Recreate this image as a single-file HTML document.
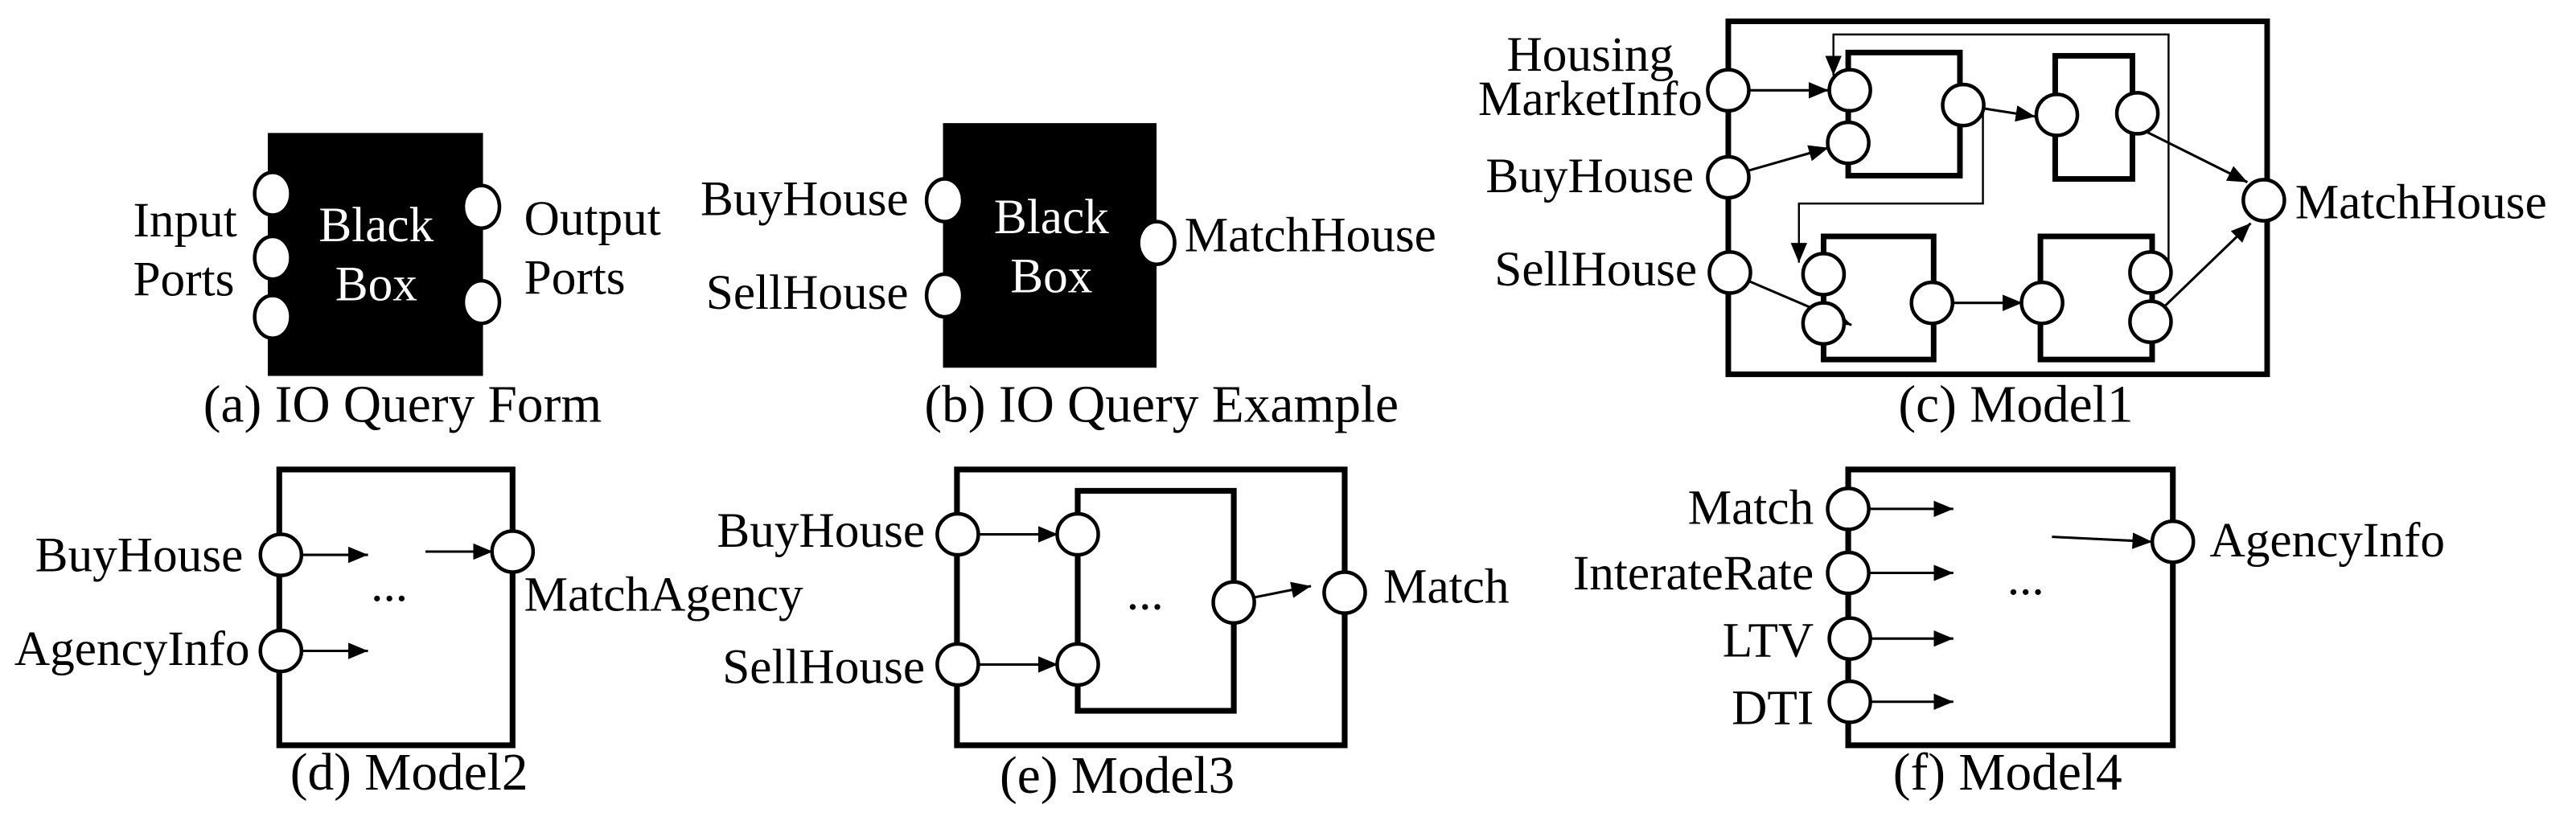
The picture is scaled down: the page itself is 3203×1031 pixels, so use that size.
<!DOCTYPE html>
<html><head><meta charset="utf-8"><style>
html,body{margin:0;padding:0;background:#fff;}
svg{display:block;}
text{font-family:"Liberation Serif",serif;fill:#000;}
</style></head><body>
<svg width="3203" height="1031" viewBox="0 0 1568 505" preserveAspectRatio="none" xmlns="http://www.w3.org/2000/svg">
<defs>
<marker id="ah" markerUnits="userSpaceOnUse" markerWidth="13" markerHeight="11" refX="12" refY="5" orient="auto"><path d="M0,0 L12,5 L0,10 z" fill="#000"/></marker>
</defs>
<g font-size="30">
<!-- (a) -->
<rect x="163" y="81" width="131" height="148" fill="#000"/>
<g fill="#fff" stroke="#000" stroke-width="2.2">
<ellipse cx="166" cy="118" rx="11" ry="13"/><ellipse cx="166" cy="157" rx="11" ry="13"/><ellipse cx="166" cy="193" rx="11" ry="13"/>
<ellipse cx="293" cy="126" rx="11" ry="13"/><ellipse cx="293" cy="184" rx="11" ry="13"/>
</g>
<text x="229" y="147" text-anchor="middle" style="fill:#fff">Black</text>
<text x="229" y="183" text-anchor="middle" style="fill:#fff">Box</text>
<text x="81" y="144">Input</text><text x="81" y="180">Ports</text>
<text x="319" y="143">Output</text><text x="319" y="179">Ports</text>
<text x="245" y="257" text-anchor="middle" font-size="32">(a) IO Query Form</text>

<!-- (b) -->
<rect x="574" y="75" width="130" height="149" fill="#000"/>
<g fill="#fff" stroke="#000" stroke-width="2.2">
<ellipse cx="575" cy="122" rx="11" ry="13"/><ellipse cx="575" cy="180" rx="11" ry="13"/><ellipse cx="704" cy="148" rx="11" ry="13"/>
</g>
<text x="640" y="142" text-anchor="middle" style="fill:#fff">Black</text>
<text x="640" y="178" text-anchor="middle" style="fill:#fff">Box</text>
<text x="553" y="131" text-anchor="end">BuyHouse</text>
<text x="553" y="188" text-anchor="end">SellHouse</text>
<text x="721" y="153">MatchHouse</text>
<text x="707" y="257" text-anchor="middle" font-size="32">(b) IO Query Example</text>

<!-- (c) -->
<g fill="none" stroke="#000" stroke-width="3.4">
<rect x="1052" y="13" width="328" height="215"/>
<rect x="1125" y="32" width="68" height="75"/>
<rect x="1251" y="34" width="47" height="75"/>
<rect x="1110" y="144" width="67" height="75"/>
<rect x="1242" y="144" width="68" height="75"/>
</g>
<g fill="none" stroke="#000" stroke-width="1.2">
<polyline points="1207,64 1207,124 1095,124 1095,160" marker-end="url(#ah)"/>
<polyline points="1320,166 1320,21 1116,21 1116,46" marker-end="url(#ah)"/>
</g>
<g stroke="#000" stroke-width="1.5" fill="none">
<line x1="1064" y1="55" x2="1113" y2="55" marker-end="url(#ah)"/>
<line x1="1064" y1="104" x2="1113" y2="90" marker-end="url(#ah)"/>
<line x1="1207" y1="66" x2="1239" y2="71" marker-end="url(#ah)"/>
<line x1="1306" y1="80" x2="1368" y2="111" marker-end="url(#ah)"/>
<line x1="1313" y1="191" x2="1370" y2="136" marker-end="url(#ah)"/>
<line x1="1064" y1="171" x2="1127" y2="198" marker-end="url(#ah)"/>
<line x1="1188" y1="184.5" x2="1231" y2="184.5" marker-end="url(#ah)"/>
</g>
<g fill="#fff" stroke="#000" stroke-width="2.2">
<circle cx="1052" cy="55" r="12.5"/><circle cx="1052" cy="108" r="12.5"/><circle cx="1053" cy="166" r="12.5"/>
<circle cx="1126" cy="55" r="12.5"/><circle cx="1125" cy="87" r="12.5"/><circle cx="1195" cy="64" r="12.5"/>
<circle cx="1252" cy="70" r="12.5"/><circle cx="1301" cy="69" r="12.5"/>
<circle cx="1110" cy="167" r="12.5"/><circle cx="1110" cy="197" r="12.5"/><circle cx="1176" cy="184.5" r="12.5"/>
<circle cx="1243" cy="184.5" r="12.5"/><circle cx="1309" cy="166" r="12.5"/><circle cx="1309" cy="196" r="12.5"/>
<circle cx="1378" cy="122" r="12.5"/>
</g>
<text x="968" y="43" text-anchor="middle">Housing</text>
<text x="968" y="70" text-anchor="middle">MarketInfo</text>
<text x="1031" y="117" text-anchor="end">BuyHouse</text>
<text x="1033" y="174" text-anchor="end">SellHouse</text>
<text x="1397" y="133">MatchHouse</text>
<text x="1227" y="257" text-anchor="middle" font-size="32">(c) Model1</text>

<!-- (d) -->
<rect x="170" y="286" width="142" height="168" fill="none" stroke="#000" stroke-width="3.5"/>
<g stroke="#000" stroke-width="1.5">
<line x1="183" y1="338" x2="224" y2="338" marker-end="url(#ah)"/>
<line x1="259" y1="336" x2="300" y2="336" marker-end="url(#ah)"/>
<line x1="183" y1="396.5" x2="224" y2="396.5" marker-end="url(#ah)"/>
</g>
<g fill="#fff" stroke="#000" stroke-width="2.2">
<circle cx="171" cy="338" r="12.5"/><circle cx="171" cy="396.5" r="12.5"/><circle cx="312" cy="336" r="12.5"/>
</g>
<text x="237" y="366" text-anchor="middle">...</text>
<text x="148" y="348" text-anchor="end">BuyHouse</text>
<text x="152" y="405" text-anchor="end">AgencyInfo</text>
<text x="319" y="372">MatchAgency</text>
<text x="249" y="481" text-anchor="middle" font-size="32">(d) Model2</text>

<!-- (e) -->
<g fill="none" stroke="#000" stroke-width="3.5">
<rect x="582.5" y="286" width="236" height="168"/>
<rect x="656" y="299" width="95" height="134"/>
</g>
<g stroke="#000" stroke-width="1.5">
<line x1="595" y1="325.5" x2="644" y2="325.5" marker-end="url(#ah)"/>
<line x1="595" y1="404.8" x2="644" y2="404.8" marker-end="url(#ah)"/>
<line x1="763" y1="364" x2="798" y2="357" marker-end="url(#ah)"/>
</g>
<g fill="#fff" stroke="#000" stroke-width="2.2">
<circle cx="583" cy="325.5" r="12.5"/><circle cx="583" cy="404.8" r="12.5"/>
<circle cx="656" cy="325.5" r="12.5"/><circle cx="656" cy="404.8" r="12.5"/>
<circle cx="751" cy="367" r="12.5"/><circle cx="818.5" cy="361" r="12.5"/>
</g>
<text x="697" y="371" text-anchor="middle">...</text>
<text x="563" y="333" text-anchor="end">BuyHouse</text>
<text x="563" y="416" text-anchor="end">SellHouse</text>
<text x="842" y="367">Match</text>
<text x="680" y="483" text-anchor="middle" font-size="32">(e) Model3</text>

<!-- (f) -->
<rect x="1125" y="286" width="197.6" height="168" fill="none" stroke="#000" stroke-width="3.5"/>
<g stroke="#000" stroke-width="1.5">
<line x1="1137" y1="310" x2="1189" y2="310" marker-end="url(#ah)"/>
<line x1="1137" y1="349" x2="1189" y2="349" marker-end="url(#ah)"/>
<line x1="1137" y1="389" x2="1189" y2="389" marker-end="url(#ah)"/>
<line x1="1137" y1="427.5" x2="1189" y2="427.5" marker-end="url(#ah)"/>
<line x1="1249" y1="327" x2="1310" y2="330" marker-end="url(#ah)"/>
</g>
<g fill="#fff" stroke="#000" stroke-width="2.2">
<circle cx="1125" cy="310" r="12.5"/><circle cx="1125" cy="349" r="12.5"/><circle cx="1126" cy="389" r="12.5"/><circle cx="1126" cy="427.5" r="12.5"/>
<circle cx="1322.6" cy="330" r="12.5"/>
</g>
<text x="1233" y="362" text-anchor="middle">...</text>
<text x="1104" y="319" text-anchor="end">Match</text>
<text x="1104" y="359" text-anchor="end">InterateRate</text>
<text x="1104" y="400" text-anchor="end">LTV</text>
<text x="1104" y="441" text-anchor="end">DTI</text>
<text x="1345" y="339">AgencyInfo</text>
<text x="1222" y="481" text-anchor="middle" font-size="32">(f) Model4</text>
</g>
</svg>
</body></html>
